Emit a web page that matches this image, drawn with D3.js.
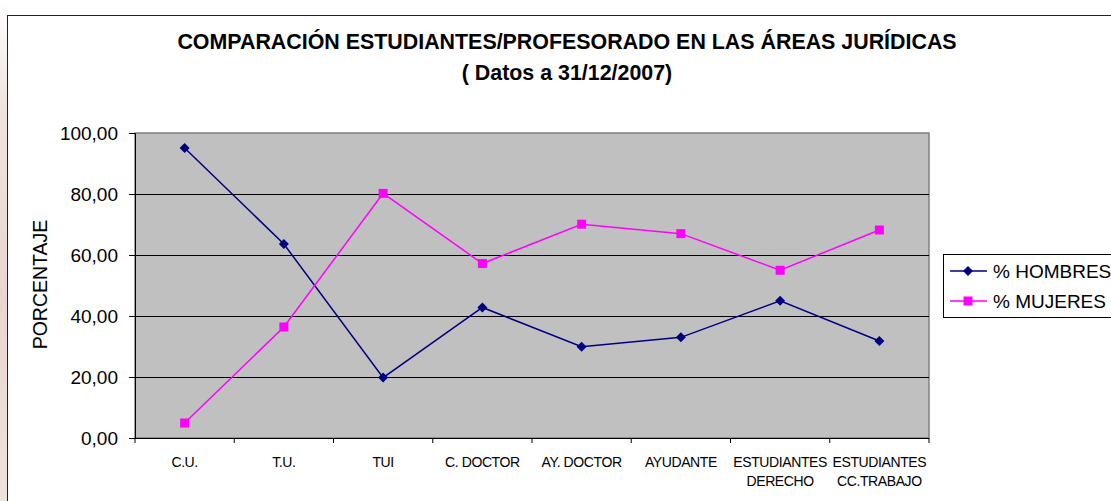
<!DOCTYPE html>
<html>
<head>
<meta charset="utf-8">
<script src="https://cdn.jsdelivr.net/npm/d3@7"></script>
<style>
  body { margin: 0; background: #fff; }
  svg { display: block; font-family: Arial, "Liberation Sans", sans-serif; }
</style>
</head>
<body>
<div id="chart"></div>
<script>
// categories and values
const categories = ["C.U.", "T.U.", "TUI", "C. DOCTOR", "AY. DOCTOR", "AYUDANTE", "ESTUDIANTES DERECHO", "ESTUDIANTES CC.TRABAJO"];
const categoryLines = [["C.U."], ["T.U."], ["TUI"], ["C. DOCTOR"], ["AY. DOCTOR"], ["AYUDANTE"], ["ESTUDIANTES", "DERECHO"], ["ESTUDIANTES", "CC.TRABAJO"]];
const hombres = [95.1, 63.6, 19.8, 42.8, 29.9, 33.0, 45.0, 31.8];
const mujeres = [4.9, 36.4, 80.2, 57.2, 70.1, 67.0, 55.0, 68.2];
const yTicks = [0, 20, 40, 60, 80, 100];
const seriesNames = ["% HOMBRES", "% MUJERES"];

const W = 1111, H = 501;
const plot = {left: 135, top: 133, right: 929, bottom: 438};

const svg = d3.select('#chart').append('svg')
  .attr('width', W).attr('height', H);

// pinkish page background peeking out at the left edge
const grad = svg.append('defs').append('linearGradient')
  .attr('id', 'edge').attr('x1', 0).attr('x2', 0).attr('y1', 0).attr('y2', 1);
grad.append('stop').attr('offset', '0%').attr('stop-color', '#ffffff');
grad.append('stop').attr('offset', '20%').attr('stop-color', '#f0e4e0');
grad.append('stop').attr('offset', '60%').attr('stop-color', '#e9d6cf');
grad.append('stop').attr('offset', '100%').attr('stop-color', '#eee2dc');
svg.append('rect').attr('x', 0).attr('y', 0).attr('width', 7).attr('height', H)
  .attr('fill', 'url(#edge)');

// chart area border
svg.append('rect')
  .attr('x', 7.5).attr('y', 15.5).attr('width', W + 10).attr('height', H + 10)
  .attr('fill', '#fff').attr('stroke', '#222').attr('stroke-width', 1);

// title
svg.append('text').attr('x', 567).attr('y', 49).attr('text-anchor', 'middle')
  .style('font-size', '21.4px').style('font-weight', 'bold')
  .text('COMPARACIÓN ESTUDIANTES/PROFESORADO EN LAS ÁREAS JURÍDICAS');
svg.append('text').attr('x', 567).attr('y', 80).attr('text-anchor', 'middle')
  .style('font-size', '21.4px').style('font-weight', 'bold')
  .text('( Datos a 31/12/2007)');

const x = d3.scaleBand().domain(categories).range([plot.left, plot.right]);
const y = d3.scaleLinear().domain([0, 100]).range([plot.bottom, plot.top]);
const fmt = d3.formatLocale({decimal: ",", thousands: ".", grouping: [3], currency: ["", "€"]}).format(".2f");

// plot background
svg.append('rect')
  .attr('x', plot.left).attr('y', plot.top)
  .attr('width', plot.right - plot.left).attr('height', plot.bottom - plot.top)
  .attr('fill', '#c0c0c0').attr('stroke', '#808080').attr('stroke-width', 1.5);

// gridlines
svg.append('g').selectAll('line')
  .data(yTicks.filter(d => d > 0 && d < 100))
  .enter().append('line')
    .attr('x1', plot.left).attr('x2', plot.right)
    .attr('y1', d => y(d) + 0.5).attr('y2', d => y(d) + 0.5)
    .attr('stroke', '#000').attr('stroke-width', 1);

// y axis
const yAxis = svg.append('g')
  .attr('transform', `translate(${plot.left},0)`)
  .call(d3.axisLeft(y).tickValues(yTicks).tickFormat(fmt).tickSize(6).tickPadding(11));
yAxis.select('.domain').attr('stroke', '#000');
yAxis.selectAll('.tick line').attr('stroke', '#000');
yAxis.selectAll('text').style('font-size', '19px').style('font-family', 'Arial, "Liberation Sans", sans-serif').attr('fill', '#000');

svg.append('text')
  .attr('transform', `translate(47,${(plot.top + plot.bottom) / 2 - 1}) rotate(-90)`)
  .attr('text-anchor', 'middle').style('font-size', '19.5px')
  .text('PORCENTAJE');

// x axis: ticks between categories
const xAxisG = svg.append('g');
xAxisG.append('line')
  .attr('x1', plot.left).attr('x2', plot.right)
  .attr('y1', plot.bottom + 0.5).attr('y2', plot.bottom + 0.5)
  .attr('stroke', '#000');
const boundaries = categories.map(c => x(c)).concat([plot.right]);
xAxisG.selectAll('line.tk').data(boundaries).enter().append('line')
  .attr('class', 'tk')
  .attr('x1', d => d).attr('x2', d => d)
  .attr('y1', plot.bottom).attr('y2', plot.bottom + 5)
  .attr('stroke', '#000');
const xl = xAxisG.selectAll('text').data(categories).enter().append('text')
  .attr('x', d => x(d) + x.bandwidth() / 2)
  .attr('y', 467)
  .attr('text-anchor', 'middle')
  .style('font-size', '14px')
  .style('letter-spacing', '-0.4px');
xl.each(function(d, i) {
  const t = d3.select(this);
  categoryLines[i].forEach((ln, j) => {
    t.append('tspan').attr('x', x(d) + x.bandwidth() / 2).attr('dy', j ? 19 : 0).text(ln);
  });
});

// lines and markers
const line = d3.line()
  .x((d, i) => x(categories[i]) + x.bandwidth() / 2)
  .y(d => y(d));

const series = [
  {name: seriesNames[0], values: hombres, color: '#000080', marker: 'diamond'},
  {name: seriesNames[1], values: mujeres, color: '#ff00ff', marker: 'square'}
];

function drawMarker(g, type, color, cx, cy) {
  if (type === 'diamond') {
    g.append('path')
      .attr('d', `M${cx},${cy - 5}L${cx + 5},${cy}L${cx},${cy + 5}L${cx - 5},${cy}Z`)
      .attr('fill', color);
  } else {
    g.append('rect').attr('x', cx - 4.5).attr('y', cy - 4.5)
      .attr('width', 9).attr('height', 9).attr('fill', color);
  }
}

series.forEach(s => {
  svg.append('path').datum(s.values)
    .attr('d', line)
    .attr('fill', 'none').attr('stroke', s.color).attr('stroke-width', 1.5);
  const mg = svg.append('g');
  s.values.forEach((v, i) => {
    drawMarker(mg, s.marker, s.color, x(categories[i]) + x.bandwidth() / 2, y(v));
  });
});

// legend
const lg = svg.append('g');
lg.append('rect').attr('x', 943.5).attr('y', 254.5).attr('width', 200).attr('height', 63)
  .attr('fill', '#fff').attr('stroke', '#000');
series.forEach((s, i) => {
  const ly = 271 + i * 30;
  lg.append('line').attr('x1', 950).attr('x2', 987).attr('y1', ly).attr('y2', ly)
    .attr('stroke', s.color).attr('stroke-width', 1.5);
  drawMarker(lg, s.marker, s.color, 968, ly);
  lg.append('text').attr('x', 993).attr('y', ly + 7).style('font-size', '19px').text(s.name);
});
</script>
</body>
</html>
